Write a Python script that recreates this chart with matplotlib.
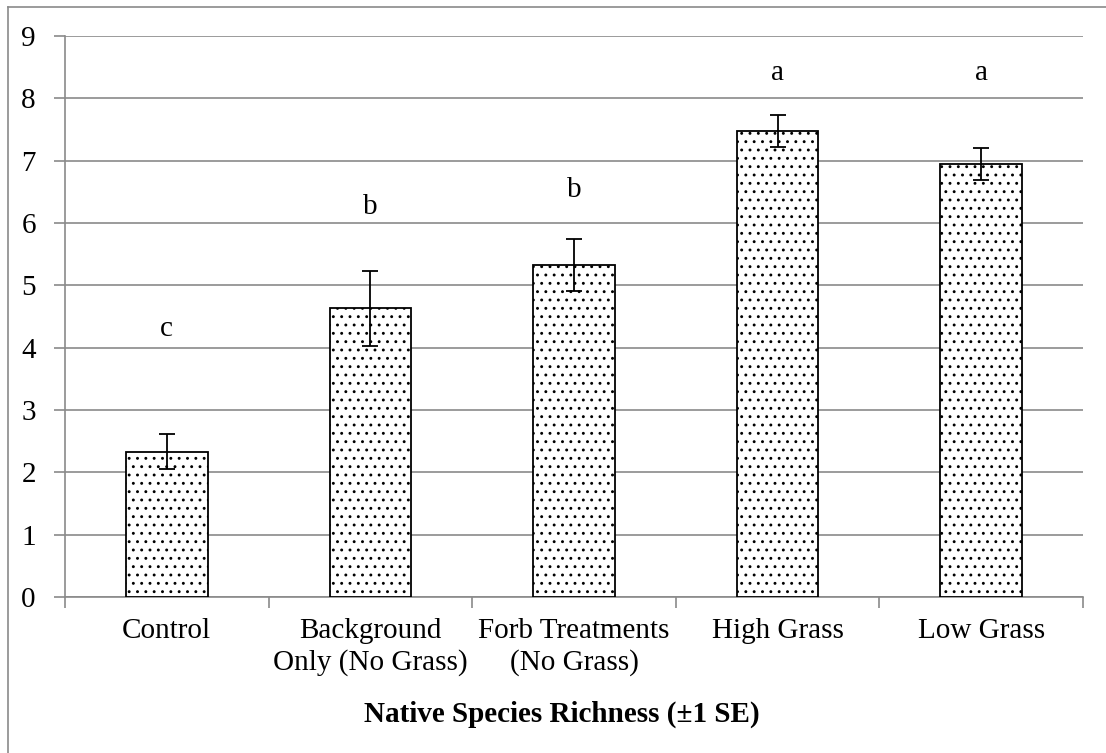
import matplotlib
matplotlib.use("Agg")
import matplotlib.pyplot as plt
from matplotlib.lines import Line2D
import numpy as np

# Treatment groups and their native species richness (mean ± 1 SE)
categories = ["Control", "Background\nOnly (No Grass)", "Forb Treatments\n(No Grass)",
              "High Grass", "Low Grass"]
means = [2.33, 4.63, 5.33, 7.48, 6.95]
se = [0.28, 0.60, 0.42, 0.26, 0.26]
letters = ["c", "b", "b", "a", "a"]
letter_y = [4.30, 6.26, 6.53, 8.40, 8.40]
y_ticks = [0, 1, 2, 3, 4, 5, 6, 7, 8, 9]
title = "Native Species Richness (\u00b11 SE)"

plt.rcParams["font.family"] = ["Liberation Serif", "DejaVu Serif"]
plt.rcParams["hatch.linewidth"] = 0.9
plt.rcParams["hatch.color"] = "black"

W, H = 1106, 753
fs = 21
fig = plt.figure(figsize=(W / 100, H / 100), dpi=100)
ax = fig.add_axes([65 / W, 1 - 597 / H, (1083 - 65) / W, (597 - 36) / H])

grid_col = "#8a8a8a"
x = np.arange(len(categories))

ax.bar(x, means, width=0.4, color="white", edgecolor="black", linewidth=1.3,
       hatch="..", zorder=3)
ax.errorbar(x, means, yerr=se, fmt="none", ecolor="black", elinewidth=1.3,
            capsize=6, capthick=1.3, zorder=4)

for xi, lab, ly in zip(x, letters, letter_y):
    ax.text(xi, ly, lab, ha="center", va="center", fontsize=fs, zorder=5)

ax.set_xlim(-0.5, len(categories) - 0.5)
ax.set_ylim(0, 9)
ax.set_yticks(y_ticks)
ax.set_yticklabels([str(t) for t in y_ticks], fontsize=fs)
ax.yaxis.grid(True, color=grid_col, linewidth=1.2, zorder=0)
ax.set_axisbelow(True)

# boundary ticks between categories, labels centred under each bar
ax.set_xticks(np.arange(len(categories) + 1) - 0.5)
ax.set_xticklabels([""] * (len(categories) + 1))
ax.set_xticks(x, minor=True)
ax.set_xticklabels(categories, minor=True, fontsize=fs, linespacing=1.25)
ax.tick_params(axis="x", which="major", direction="out", length=8,
               width=1.2, color=grid_col)
ax.tick_params(axis="x", which="minor", length=0, pad=15)
ax.tick_params(axis="y", direction="out", length=8, width=1.2,
               color=grid_col, pad=13)

for side in ["top", "right"]:
    ax.spines[side].set_visible(False)
for side in ["left", "bottom"]:
    ax.spines[side].set_color(grid_col)
    ax.spines[side].set_linewidth(1.2)

fig.text(562 / W, 1 - 714 / H, title, ha="center", va="center",
         fontsize=fs, fontweight="bold")

# outer chart frame
fig.add_artist(Line2D([8 / W, 8 / W], [0, 1 - 7 / H], transform=fig.transFigure,
                      color=grid_col, linewidth=1.2))
fig.add_artist(Line2D([8 / W, 1], [1 - 7 / H, 1 - 7 / H], transform=fig.transFigure,
                      color=grid_col, linewidth=1.2))

fig.savefig("out.png", dpi=100)
